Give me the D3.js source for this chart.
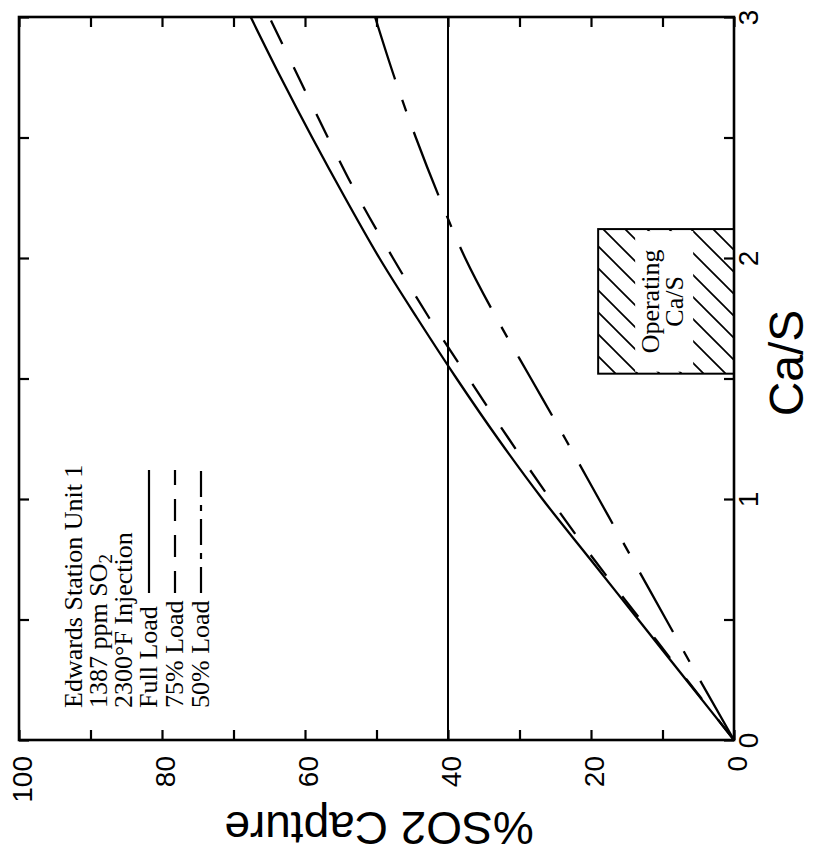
<!DOCTYPE html>
<html>
<head>
<meta charset="utf-8">
<script src="https://cdn.jsdelivr.net/npm/d3@7"></script>
<style>
  html, body { margin: 0; padding: 0; background: #fff; }
  svg { display: block; }
</style>
</head>
<body>
<div id="chart"></div>
<script>
// ---- data ----
const caS      = [0, 0.25, 0.5, 0.75, 1.0, 1.25, 1.5, 1.75, 2.0, 2.25, 2.5, 2.75, 3.0];
const fullLoad = [0, 6.7, 13.4, 20.1, 26.8, 33.0, 38.8, 44.3, 49.6, 54.4, 59.0, 63.4, 67.6];
const load75   = [0, 6.6, 13.1, 19.6, 25.7, 31.5, 37.1, 42.6, 47.7, 52.5, 56.8, 60.9, 65.0];
const load50   = [0, 4.8, 9.5, 14.2, 18.9, 23.6, 28.4, 33.2, 37.6, 41.2, 44.5, 47.5, 50.2];
const seriesNames = ["Full Load", "75% Load", "50% Load"];
const legendHeader = ["Edwards Station Unit 1", "1387 ppm SO|2", "2300°F Injection"];
const so2Ticks = [0, 10, 20, 30, 40, 50, 60, 70, 80, 90, 100];
const so2Labels = [0, 20, 40, 60, 80, 100];
const caTicks = [0, 0.5, 1, 1.5, 2, 2.5, 3];
const caLabels = [0, 1, 2, 3];
const refLineSO2 = 40;
const operatingCa = [1.52, 2.12];
const operatingSO2 = [0, 19];
const xTitle = "Ca/S";
const yTitle = "%SO2 Capture";

// ---- layout ----
const W = 816, H = 857;
const L = 19, R = 734, T = 17, B = 740;
const svg = d3.select("#chart").append("svg").attr("width", W).attr("height", H);

// rotated chart: %SO2 runs right->left along the bottom, Ca/S runs bottom->top on the right
const xS = d3.scaleLinear().domain([0, 100]).range([R, L]);
const yC = d3.scaleLinear().domain([0, 3]).range([B, T]);

const defs = svg.append("defs");
const pat = defs.append("pattern").attr("id", "hatch")
  .attr("patternUnits", "userSpaceOnUse").attr("width", 22).attr("height", 22);
pat.append("path").attr("d", "M-5,-5L27,27M-27,-5L5,27M17,-5L49,27")
  .attr("stroke", "#000").attr("stroke-width", 1.7);

// Operating Ca/S box
const bx0 = xS(operatingSO2[1]), bx1 = xS(operatingSO2[0]);
const by0 = yC(operatingCa[1]), by1 = yC(operatingCa[0]);
svg.append("rect").attr("x", bx0).attr("y", by0).attr("width", bx1 - bx0).attr("height", by1 - by0)
  .attr("fill", "url(#hatch)");
svg.append("rect").attr("x", bx0 + 37).attr("y", by0 + 2).attr("width", 58).attr("height", by1 - by0 - 4)
  .attr("fill", "#fff");
svg.append("rect").attr("x", bx0).attr("y", by0).attr("width", bx1 - bx0).attr("height", by1 - by0)
  .attr("fill", "none").attr("stroke", "#000").attr("stroke-width", 2);
const opText = svg.append("g").attr("font-family", "'Liberation Serif', 'Times New Roman', serif")
  .attr("font-size", 26).attr("text-anchor", "middle");
[["Operating", 659], ["Ca/S", 683]].forEach(([t, x]) => {
  opText.append("text").attr("transform", `translate(${x},${(by0 + by1) / 2}) rotate(-90)`).text(t);
});

// frame
svg.append("rect").attr("x", L).attr("y", T).attr("width", R - L).attr("height", B - T)
  .attr("fill", "none").attr("stroke", "#000").attr("stroke-width", 2.6);

// axes (inward ticks)
const tickFont = "'Liberation Sans', Arial, sans-serif";
const gBottom = svg.append("g").attr("transform", `translate(0,${B})`)
  .call(d3.axisBottom(xS).tickValues(so2Ticks).tickSizeInner(-10).tickSizeOuter(0)
    .tickFormat(d => so2Labels.includes(d) ? d : ""));
gBottom.select(".domain").remove();
gBottom.selectAll("line").attr("stroke-width", 2.2);
gBottom.selectAll("text")
  .attr("font-family", tickFont).attr("font-size", 28).attr("fill", "#000")
  .attr("transform", "rotate(-90)").attr("text-anchor", "end")
  .attr("x", -16).attr("y", 3).attr("dy", "0.35em");

const gTop = svg.append("g").attr("transform", `translate(0,${T})`)
  .call(d3.axisTop(xS).tickValues(so2Ticks).tickSizeInner(-10).tickSizeOuter(0).tickFormat(""));
gTop.select(".domain").remove();
gTop.selectAll("line").attr("stroke-width", 2.2);

const gRight = svg.append("g").attr("transform", `translate(${R},0)`)
  .call(d3.axisRight(yC).tickValues(caTicks).tickSizeInner(-10).tickSizeOuter(0)
    .tickFormat(d => caLabels.includes(d) ? d : ""));
gRight.select(".domain").remove();
gRight.selectAll("line").attr("stroke-width", 2.2);
gRight.selectAll("text")
  .attr("font-family", tickFont).attr("font-size", 28).attr("fill", "#000")
  .attr("transform", "rotate(-90)").attr("text-anchor", "middle")
  .attr("x", 0).attr("y", 24).attr("dy", 0);

const gLeft = svg.append("g").attr("transform", `translate(${L},0)`)
  .call(d3.axisLeft(yC).tickValues(caTicks).tickSizeInner(-10).tickSizeOuter(0).tickFormat(""));
gLeft.select(".domain").remove();
gLeft.selectAll("line").attr("stroke-width", 2.2);

// axis titles
svg.append("text").attr("font-family", tickFont).attr("font-size", 48)
  .attr("text-anchor", "middle")
  .attr("transform", `translate(803,${363}) rotate(-90)`).text(xTitle);
svg.append("text").attr("font-family", tickFont).attr("font-size", 46)
  .attr("text-anchor", "middle")
  .attr("transform", `translate(379,812) rotate(180)`).text(yTitle);

// reference line at 40% capture
svg.append("line").attr("x1", xS(refLineSO2)).attr("x2", xS(refLineSO2))
  .attr("y1", yC(0)).attr("y2", yC(3)).attr("stroke", "#000").attr("stroke-width", 2);

// curves
const dashes = [null, "26,26", "68,22,12,22"];
const legendDashes = [null, "22,14", "26,8,6,8"];
const series = [fullLoad, load75, load50];
const line = d3.line().x(d => xS(d[1])).y(d => yC(d[0])).curve(d3.curveMonotoneY);
series.forEach((vals, i) => {
  svg.append("path").datum(caS.map((c, j) => [c, vals[j]]))
    .attr("d", line).attr("fill", "none").attr("stroke", "#000")
    .attr("stroke-width", 2.3).attr("stroke-dasharray", dashes[i]);
});

// legend
const serif = "'Liberation Serif', 'Times New Roman', serif";
const baseX = [82, 107, 132, 157, 183, 209];
const legStartY = 708;
const lg = svg.append("g").attr("font-family", serif).attr("font-size", 26).attr("fill", "#000");
legendHeader.forEach((t, i) => {
  const txt = lg.append("text").attr("transform", `translate(${baseX[i]},${legStartY}) rotate(-90)`);
  const parts = t.split("|");
  txt.append("tspan").text(parts[0]);
  if (parts[1]) txt.append("tspan").attr("font-size", 19).attr("dy", 5).text(parts[1]);
});
seriesNames.forEach((t, i) => {
  const bx = baseX[3 + i];
  lg.append("text").attr("transform", `translate(${bx},${legStartY}) rotate(-90)`).text(t);
  lg.append("line").attr("x1", bx - 8).attr("x2", bx - 8).attr("y1", 593).attr("y2", 470)
    .attr("stroke", "#000").attr("stroke-width", 2.2).attr("stroke-dasharray", legendDashes[i]);
});
</script>
</body>
</html>
